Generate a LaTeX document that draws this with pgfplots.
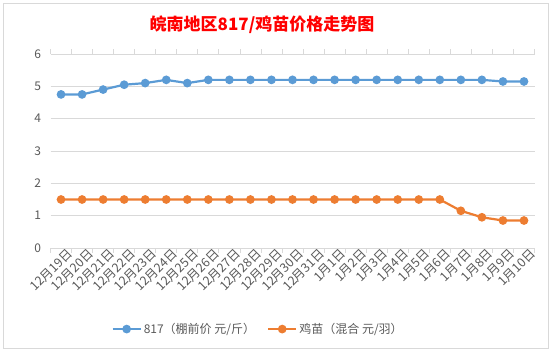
\documentclass[border=0pt]{standalone}
\usepackage{fontspec}
\setmainfont{Noto Sans CJK SC}
\usepackage{pgfplots}
\pgfplotsset{compat=1.18}
\definecolor{blu}{RGB}{91,155,213}
\definecolor{ora}{RGB}{237,125,49}
\definecolor{tk}{RGB}{89,89,89}
\definecolor{grd}{RGB}{217,217,217}
\begin{document}
\begin{tikzpicture}
\path[use as bounding box] (0pt,0pt) rectangle (552pt,352pt);
\draw[grd, line width=0.75pt] (3.5pt,3.5pt) rectangle (548.5pt,348.5pt);
\node[text=red, font=\fontsize{17}{17}\selectfont\bfseries] at (262pt,327pt) {皖南地区817/鸡苗价格走势图};
\begin{axis}[
  at={(50.5pt,104pt)}, anchor=south west,
  scale only axis, width=484pt, height=194pt,
  xmin=-0.5, xmax=22.5, ymin=0, ymax=6,
  ytick={0,1,...,6},
  xtick={0,1,...,22},
  xticklabels={12月19日,12月20日,12月21日,12月22日,12月23日,12月24日,12月25日,12月26日,12月27日,12月28日,12月29日,12月30日,12月31日,1月1日,1月2日,1月3日,1月4日,1月5日,1月6日,1月7日,1月8日,1月9日,1月10日},
  minor xtick={-0.5,0.5,...,22.5},
  axis line style={draw=none},
  ymajorgrids, grid style={grd, line width=0.75pt},
  major tick length=0pt, minor tick length=5pt, tick align=outside,
  minor x tick style={grd, line width=0.75pt},
  tick label style={text=tk, font=\fontsize{12}{12}\selectfont},
  /pgf/number format/assume math mode=true,
  x tick label style={rotate=45, anchor=north east, inner sep=1pt, xshift=5pt, yshift=-2pt, font=\fontsize{12.5}{12.5}\selectfont},
  y tick label style={xshift=-6pt},
  legend style={at={(0.429,-0.418)}, anchor=center, draw=none, fill=none,
    legend columns=2, font=\fontsize{12}{12}\selectfont, text=tk,
    /tikz/every even column/.append style={column sep=10pt}},
  legend image code/.code={\draw[#1] (0pt,0pt) -- (28pt,0pt); \draw[#1, mark repeat=1] plot coordinates {(14pt,0pt)};},
  clip=false,
]
\draw[grd, line width=0.75pt] (axis cs:-0.5,0) -- (axis cs:22.5,0);
\addplot[blu, line width=2.2pt, mark=*, mark size=3.2pt, mark options={solid}] coordinates {
(0,4.75)(1,4.75)(2,4.9)(3,5.05)(4,5.1)(5,5.2)(6,5.1)(7,5.2)(8,5.2)(9,5.2)(10,5.2)(11,5.2)(12,5.2)(13,5.2)(14,5.2)(15,5.2)(16,5.2)(17,5.2)(18,5.2)(19,5.2)(20,5.2)(21,5.15)(22,5.15)};
\addlegendentry{817（棚前价 元/斤）}
\addplot[ora, line width=2.2pt, mark=*, mark size=3.2pt, mark options={solid}] coordinates {
(0,1.5)(1,1.5)(2,1.5)(3,1.5)(4,1.5)(5,1.5)(6,1.5)(7,1.5)(8,1.5)(9,1.5)(10,1.5)(11,1.5)(12,1.5)(13,1.5)(14,1.5)(15,1.5)(16,1.5)(17,1.5)(18,1.5)(19,1.15)(20,0.95)(21,0.85)(22,0.85)};
\addlegendentry{鸡苗（混合 元/羽）}
\end{axis}
\end{tikzpicture}
\end{document}
